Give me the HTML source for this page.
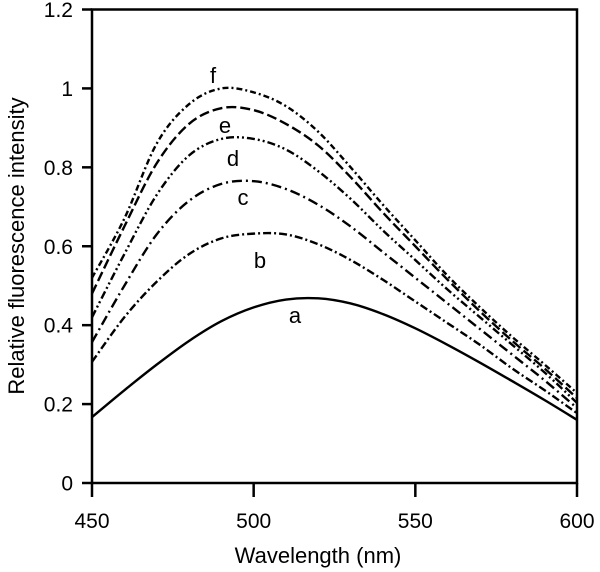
<!DOCTYPE html>
<html><head><meta charset="utf-8"><style>
html,body{margin:0;padding:0;background:#fff;}
svg{display:block;font-family:"Liberation Sans",Arial,sans-serif;}
</style></head><body>
<svg id="chart" width="600" height="572" viewBox="0 0 600 572" xmlns="http://www.w3.org/2000/svg">
<g id="axes"></g>
<g id="series"></g>
<g id="labels"></g>
<text x="318" y="563" font-size="22" text-anchor="middle">Wavelength (nm)</text>
<text transform="translate(24,246) rotate(-90)" font-size="22" text-anchor="middle">Relative fluorescence intensity</text>
</svg>
<script>
const wavelengths=[450,460,470,480,490,500,510,520,530,540,550,560,570,580,590,600];
const seriesA=[.167,.235,.30,.36,.41,.445,.465,.468,.455,.428,.392,.35,.305,.258,.21,.16];
const seriesB=[.307,.42,.51,.58,.62,.632,.63,.605,.565,.515,.46,.405,.35,.29,.235,.177];
const seriesC=[.357,.50,.63,.715,.758,.765,.745,.705,.65,.585,.52,.455,.39,.325,.26,.19];
const seriesD=[.42,.58,.73,.83,.872,.872,.845,.79,.72,.64,.565,.49,.42,.35,.28,.203];
const seriesE=[.48,.65,.81,.91,.95,.945,.91,.855,.775,.685,.60,.515,.435,.36,.29,.215];
const seriesF=[.52,.67,.86,.96,1.0,.99,.955,.89,.80,.705,.615,.525,.445,.37,.30,.228];
const seriesNames=["a","b","c","d","e","f"];
const xTicks=[450,500,550,600];
const yTicks=[0,0.2,0.4,0.6,0.8,1,1.2];
const yTickLabels=["0","0.2","0.4","0.6","0.8","1","1.2"];

const X0=92,X1=577,Y0=483,Y1=9.5;
const xs=v=>X0+(v-450)/150*(X1-X0);
const ys=v=>Y0-v/1.2*(Y0-Y1);
const NS="http://www.w3.org/2000/svg";
function mk(tag,attrs,parent){const e=document.createElementNS(NS,tag);for(const k in attrs)e.setAttribute(k,attrs[k]);parent.appendChild(e);return e;}
const axes=document.getElementById('axes');
let e=mk('rect',{x:X0,y:Y1,width:X1-X0,height:Y0-Y1,fill:'none',stroke:'#000','stroke-width':2.5},axes);


yTicks.forEach((t,i)=>{
  let l=mk('line',{x1:X0-10,x2:X0,y1:ys(t),y2:ys(t),stroke:'#000','stroke-width':2.5},axes);
  
  
  let tx=mk('text',{x:X0-19,y:ys(t)+7.5,'font-size':21,'text-anchor':'end'},axes);
  tx.textContent=yTickLabels[i];
  
  
});
xTicks.forEach(t=>{
  let l=mk('line',{x1:xs(t),x2:xs(t),y1:Y0,y2:Y0+14,stroke:'#000','stroke-width':2.5},axes);
  
  
  let tx=mk('text',{x:xs(t),y:Y0+45,'font-size':21,'text-anchor':'middle'},axes);
  tx.textContent=t;
  
  
});
const all=[seriesA,seriesB,seriesC,seriesD,seriesE,seriesF];
const dashes=["","8,3,2,3","10,4,2,4","8,3,2,3,2,3","10,4","6,3,2,3"];
const sg=document.getElementById('series');
function smooth(pts){
  let d="M"+pts[0][0]+","+pts[0][1];
  for(let i=0;i<pts.length-1;i++){
    const p0=pts[Math.max(0,i-1)],p1=pts[i],p2=pts[i+1],p3=pts[Math.min(pts.length-1,i+2)];
    const c1=[p1[0]+(p2[0]-p0[0])/6,p1[1]+(p2[1]-p0[1])/6];
    const c2=[p2[0]-(p3[0]-p1[0])/6,p2[1]-(p3[1]-p1[1])/6];
    d+=" C"+c1[0]+","+c1[1]+" "+c2[0]+","+c2[1]+" "+p2[0]+","+p2[1];
  }
  return d;
}
all.forEach((s,k)=>{
  const pts=s.map((v,i)=>[xs(wavelengths[i]),ys(v)]);
  let p=mk('path',{d:smooth(pts),fill:'none',stroke:'#000','stroke-width':2.4},sg);
  if(dashes[k])p.setAttribute('stroke-dasharray',dashes[k]);
  
  
});
const labelPos=[[295,323],[260,268],[243,205],[233,166],[225,133],[213,83]];
const lg=document.getElementById('labels');
seriesNames.forEach((n,k)=>{
  let t=mk('text',{x:labelPos[k][0],y:labelPos[k][1],'font-size':22,'text-anchor':'middle'},lg);
  t.textContent=n;
  
  
});
</script>
</body></html>
